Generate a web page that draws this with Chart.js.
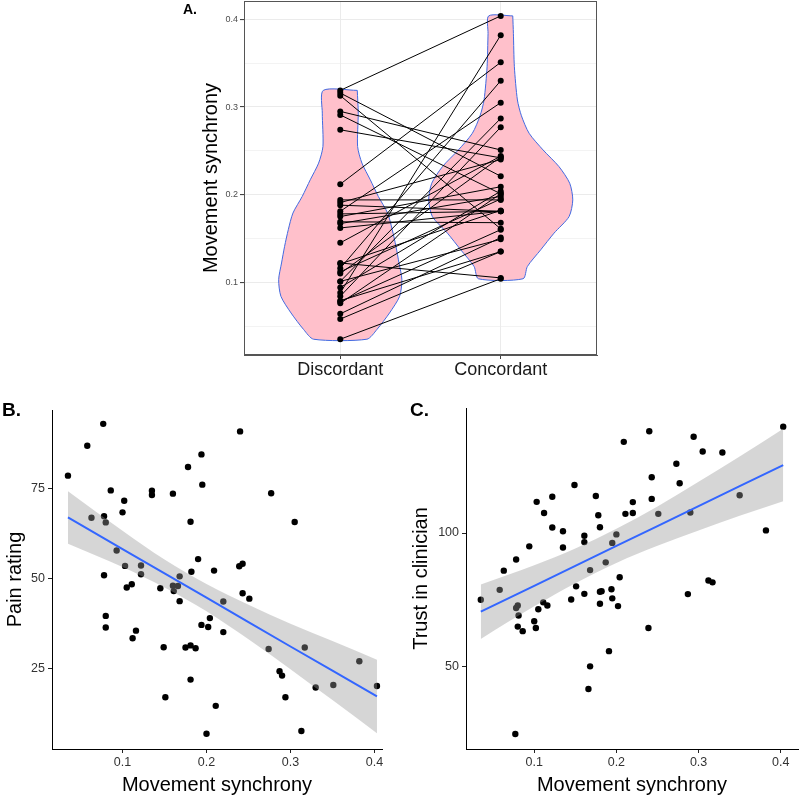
<!DOCTYPE html>
<html>
<head>
<meta charset="utf-8">
<title>Movement synchrony</title>
<script src="https://cdn.jsdelivr.net/npm/chart.js@4/dist/chart.umd.min.js"></script>
<style>
    html, body { margin: 0; padding: 0; background: #fff; }
    body { position: relative; width: 800px; height: 800px; overflow: hidden; font-family: "Liberation Sans", Arial, sans-serif; }
    .panel { position: absolute; }
    .tag { position: absolute; font-weight: bold; color: #000; }
</style>
</head>
<body>
<div class="panel" style="left:190px;top:0;width:420px;height:385px"><canvas id="violinChart"></canvas></div>
<div class="panel" style="left:0;top:390px;width:400px;height:410px"><canvas id="painChart"></canvas></div>
<div class="panel" style="left:400px;top:390px;width:400px;height:410px"><canvas id="trustChart"></canvas></div>
<div class="tag" style="left:183px;top:1px;font-size:14px">A.</div>
<div class="tag" style="left:2px;top:399px;font-size:19px">B.</div>
<div class="tag" style="left:410px;top:399px;font-size:19px">C.</div>

<script>
/* ---- panel A: paired synchrony per condition ---- */
const groups = ['Discordant', 'Concordant'];
const discordant = [0.319, 0.316, 0.313, 0.295, 0.291, 0.274, 0.212, 0.194, 0.191, 0.188, 0.181, 0.178, 0.175, 0.169, 0.167, 0.162, 0.145,
    0.122, 0.121, 0.116, 0.112, 0.110, 0.101, 0.101, 0.094, 0.088, 0.084, 0.079, 0.078, 0.076, 0.064, 0.058, 0.035];
const concordant = [0.404, 0.221, 0.161, 0.251, 0.201, 0.242, 0.351, 0.194, 0.240, 0.181, 0.305, 0.181, 0.209, 0.168, 0.198, 0.181, 0.244,
    0.105, 0.182, 0.330, 0.195, 0.243, 0.287, 0.149, 0.204, 0.382, 0.277, 0.135, 0.160, 0.201, 0.151, 0.135, 0.104];

// violin outlines: level (synchrony) and half width of the density
const densLevelsD = [0.319, 0.293, 0.255, 0.236, 0.217, 0.198, 0.179, 0.160, 0.141, 0.122, 0.103, 0.084, 0.065, 0.046, 0.035];
const densWidthD  = [0.106, 0.112, 0.108, 0.135, 0.187, 0.237, 0.295, 0.324, 0.347, 0.366, 0.384, 0.370, 0.307, 0.228, 0.166];
const densLevelsC = [0.404, 0.384, 0.346, 0.308, 0.290, 0.270, 0.251, 0.232, 0.213, 0.194, 0.175, 0.156, 0.137, 0.118, 0.104];
const densWidthC  = [0.075, 0.079, 0.085, 0.104, 0.129, 0.177, 0.264, 0.363, 0.430, 0.449, 0.426, 0.332, 0.249, 0.166, 0.139];
const gridA = [0.05, 0.1, 0.15, 0.2, 0.25, 0.3, 0.35, 0.4];

/* ---- panel B: pain rating ---- */
const synchronyB = [0.035, 0.058, 0.077, 0.063, 0.078, 0.080, 0.086, 0.078, 0.080, 0.080, 0.093, 0.100, 0.102, 0.103, 0.105, 0.111, 0.112,
    0.116, 0.122, 0.122, 0.135, 0.135, 0.145, 0.149, 0.151, 0.160, 0.160, 0.161, 0.166, 0.168, 0.168, 0.175, 0.178, 0.181, 0.181, 0.181,
    0.182, 0.187, 0.190, 0.194, 0.195, 0.194, 0.200, 0.202, 0.204, 0.209, 0.211, 0.220, 0.220, 0.240, 0.239, 0.243, 0.243, 0.251, 0.274,
    0.277, 0.287, 0.290, 0.294, 0.305, 0.313, 0.317, 0.330, 0.351, 0.382, 0.403];
const painRating = [78.5, 86.8, 92.9, 66.8, 67.2, 65.5, 74.4, 50.8, 39.5, 36.3, 57.7, 68.3, 71.5, 53.4, 47.4, 48.3, 33.3,
    35.4, 53.5, 51.1, 74.3, 73.1, 47.2, 30.8, 16.9, 73.5, 47.9, 46.4, 47.8, 50.5, 43.6, 30.7, 80.9, 65.7, 31.3, 21.8,
    51.8, 30.5, 55.3, 84.4, 76.0, 37.0, 6.75, 36.4, 38.9, 52.1, 14.5, 43.5, 35.0, 90.8, 53.3, 54.0, 45.8, 44.3, 30.3,
    73.6, 24.1, 22.9, 16.9, 65.6, 7.5, 30.7, 19.6, 20.3, 26.9, 20.0];

/* ---- panel C: trust in clinician ---- */
const synchronyC = [0.035, 0.058, 0.063, 0.077, 0.078, 0.078, 0.080, 0.081, 0.080, 0.086, 0.094, 0.100, 0.102, 0.103, 0.105, 0.111, 0.112,
    0.116, 0.122, 0.122, 0.135, 0.135, 0.145, 0.149, 0.151, 0.161, 0.161, 0.161, 0.166, 0.168, 0.168, 0.175, 0.178, 0.180, 0.180, 0.182,
    0.180, 0.187, 0.191, 0.194, 0.195, 0.195, 0.200, 0.202, 0.204, 0.209, 0.211, 0.220, 0.220, 0.240, 0.239, 0.243, 0.243, 0.251, 0.273,
    0.277, 0.287, 0.290, 0.294, 0.305, 0.312, 0.317, 0.329, 0.350, 0.382, 0.403];
const trustClinician = [75.0, 78.7, 85.9, 24.6, 90.1, 71.9, 72.8, 69.1, 64.9, 63.2, 95.0, 66.9, 64.4, 111.7, 71.4, 74.0, 107.5,
    72.8, 102.1, 113.6, 100.7, 94.6, 75.1, 118.0, 80.0, 99.0, 96.6, 77.2, 41.5, 50.0, 86.1, 113.9, 106.7, 102.2, 78.0, 78.2,
    73.5, 89.0, 55.7, 78.9, 96.3, 75.5, 99.5, 72.6, 83.4, 134.2, 107.2, 111.6, 107.5, 138.2, 64.4, 120.9, 112.8, 107.2, 126.0,
    118.7, 77.1, 107.7, 136.1, 130.6, 82.2, 81.5, 130.2, 114.2, 101.0, 139.9];

// linear fits with 95% band, read at these synchrony values
const fitX       = [0.035, 0.1, 0.15, 0.2, 0.25, 0.3, 0.35, 0.403];
const painFit    = [66.9, 58.1, 51.3, 44.6, 37.8, 31.0, 24.3, 17.1];
const painUpper  = [74.2, 63.2, 55.2, 48.4, 42.6, 37.3, 32.5, 27.3];
const painLower  = [59.6, 53.1, 47.4, 40.8, 33.0, 24.7, 16.1, 6.9];
const trustFit   = [70.5, 80.2, 87.7, 95.2, 102.6, 110.1, 117.6, 125.5];
const trustUpper = [80.7, 87.9, 94.2, 101.6, 110.0, 119.2, 128.7, 139.1];
const trustLower = [60.3, 72.5, 81.2, 88.8, 95.2, 101.0, 106.5, 111.9];

const syncTicks = [0.1, 0.2, 0.3, 0.4];
const painTicks = [25, 50, 75];
const trustTicks = [50, 100];

Chart.defaults.font.family = '"Liberation Sans", Arial, sans-serif';
Chart.defaults.animation = false;
Chart.defaults.plugins.legend.display = false;
Chart.defaults.plugins.tooltip.enabled = false;

const BLUE = '#3366ff';
const BAND = 'rgba(153,153,153,0.4)';
const NO_PAD = { left: 0, top: 0, right: 0, bottom: 0 };
const isMajor = v => Math.abs(v * 10 - Math.round(v * 10)) < 1e-6;
const pts = (xs, ys) => xs.map((x, i) => ({ x, y: ys[i] }));
const fixTicks = list => s => { s.ticks = list.map(v => ({ value: v })); };

const panelBorder = {
    id: 'panelBorder',
    afterDatasetsDraw(chart) {
        const { ctx, chartArea: a } = chart;
        ctx.save();
        ctx.strokeStyle = '#555';
        ctx.lineWidth = 1;
        ctx.strokeRect(Math.round(a.left) + 0.5, Math.round(a.top) + 0.5, Math.round(a.right - a.left) - 1, Math.round(a.bottom - a.top) - 1);
        ctx.restore();
    }
};

function violinOutline(center, levels, widths) {
    const right = levels.map((y, i) => ({ x: center + widths[i], y }));
    const left = levels.map((y, i) => ({ x: center - widths[i], y })).reverse();
    return [...right, ...left, right[0]];
}

/* ---------- A ---------- */
const pairLines = discordant.map((d, i) => ({
    data: [{ x: 1, y: d }, { x: 2, y: concordant[i] }],
    showLine: true, borderColor: '#000', borderWidth: 1, pointRadius: 0
}));
const violinSet = (center, levels, widths) => ({
    data: violinOutline(center, levels, widths),
    showLine: true, fill: 'shape', tension: 0.25,
    backgroundColor: '#ffc0cb', borderColor: '#4169e1', borderWidth: 1, pointRadius: 0
});

new Chart(document.getElementById('violinChart'), {
    type: 'scatter',
    data: { datasets: [
        { data: discordant.map(y => ({ x: 1, y })), pointRadius: 3, backgroundColor: '#000', borderWidth: 0 },
        { data: concordant.map(y => ({ x: 2, y })), pointRadius: 3, backgroundColor: '#000', borderWidth: 0 },
        ...pairLines,
        violinSet(1, densLevelsD, densWidthD),
        violinSet(2, densLevelsC, densWidthC)
    ]},
    options: {
        responsive: true, maintainAspectRatio: false,
        layout: { autoPadding: false, padding: { left: 0, top: 1, right: 13, bottom: 0 } },
        scales: {
            x: {
                type: 'linear', min: 0.4, max: 2.6,
                afterBuildTicks: fixTicks([1, 2]),
                afterFit: s => { s.height = 30; s.getPadding = () => NO_PAD; },
                ticks: { callback: v => groups[Math.round(v) - 1], font: { size: 18 }, color: '#1a1a1a', padding: 0, autoSkip: false, maxRotation: 0 },
                grid: { color: '#ebebeb', lineWidth: 1, tickLength: 4, tickColor: '#444' },
                border: { color: '#555' }
            },
            y: {
                min: 0.017, max: 0.421,
                afterBuildTicks: fixTicks(gridA),
                afterFit: s => { s.width = 54; s.getPadding = () => NO_PAD; },
                ticks: { callback: v => isMajor(v) ? v.toFixed(1) : '', font: { size: 9 }, color: '#4d4d4d', padding: 2 },
                grid: {
                    color: '#ebebeb', tickLength: 4,
                    lineWidth: c => (c.tick && isMajor(c.tick.value)) ? 1.1 : 0.6,
                    tickColor: c => (c.tick && isMajor(c.tick.value)) ? '#444' : 'rgba(0,0,0,0)'
                },
                border: { color: '#555' },
                title: { display: true, text: 'Movement synchrony', font: { size: 20 }, color: '#000', padding: { top: 9, bottom: 0 } }
            }
        }
    },
    plugins: [panelBorder]
});

/* ---------- B and C ---------- */
function fitChart(id, cfg) {
    new Chart(document.getElementById(id), {
        type: 'scatter',
        data: { datasets: [
            { data: pts(fitX, cfg.fit), showLine: true, borderColor: BLUE, borderWidth: 2, pointRadius: 0 },
            { data: pts(fitX, cfg.upper), showLine: true, fill: '+1', backgroundColor: BAND, borderColor: 'transparent', borderWidth: 0, pointRadius: 0, cubicInterpolationMode: 'monotone' },
            { data: pts(fitX, cfg.lower), showLine: true, borderColor: 'transparent', borderWidth: 0, pointRadius: 0, cubicInterpolationMode: 'monotone' },
            { data: pts(cfg.xs, cfg.ys), pointRadius: 3.2, backgroundColor: '#000', borderWidth: 0 }
        ]},
        options: {
            responsive: true, maintainAspectRatio: false,
            layout: { autoPadding: false, padding: cfg.padding },
            scales: {
                x: {
                    min: cfg.xMin, max: cfg.xMax,
                    afterBuildTicks: fixTicks(syncTicks),
                    afterFit: s => { s.height = 51; },
                    ticks: { callback: v => v.toFixed(1), font: { size: 12.5 }, color: '#333', padding: 2, autoSkip: false, maxRotation: 0 },
                    grid: { drawOnChartArea: false, tickLength: 4, tickColor: '#222' },
                    border: { color: '#000', width: 1 },
                    title: { display: true, text: 'Movement synchrony', font: { size: 20 }, color: '#000', padding: { top: 0, bottom: 3 } }
                },
                y: {
                    min: cfg.yMin, max: cfg.yMax,
                    afterBuildTicks: fixTicks(cfg.yTicks),
                    afterFit: s => { s.width = cfg.yWidth; },
                    ticks: { font: { size: 12.5 }, color: '#333', padding: 3 },
                    grid: { drawOnChartArea: false, tickLength: 4, tickColor: '#222' },
                    border: { color: '#000', width: 1 },
                    title: { display: true, text: cfg.title, font: { size: 20 }, color: '#000', padding: { top: cfg.titlePad, bottom: 0 } }
                }
            }
        }
    });
}

fitChart('painChart', {
    xs: synchronyB, ys: painRating, fit: painFit, upper: painUpper, lower: painLower,
    xMin: 0.016, xMax: 0.409, yMin: 2.5, yMax: 96.75, yTicks: painTicks, yWidth: 52,
    title: 'Pain rating', titlePad: 3, padding: { left: 0, top: 20, right: 18, bottom: 0 }
});
fitChart('trustChart', {
    xs: synchronyC, ys: trustClinician, fit: trustFit, upper: trustUpper, lower: trustLower,
    xMin: 0.017, xMax: 0.421, yMin: 19, yMax: 146.9, yTicks: trustTicks, yWidth: 66,
    title: 'Trust in clinician', titlePad: 9, padding: { left: 0, top: 18, right: 2, bottom: 0 }
});
</script>
</body>
</html>
